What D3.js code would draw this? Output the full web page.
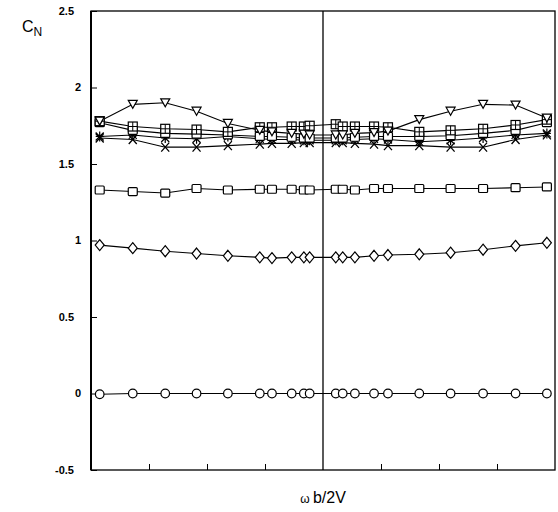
<!DOCTYPE html>
<html><head><meta charset="utf-8">
<script src="https://cdn.jsdelivr.net/npm/d3@7"></script>
<style>body{margin:0;background:#fff}svg{display:block}</style>
</head><body><div id="chart"></div>
<script>
const xValues = [-0.0385,-0.0328,-0.0272,-0.0218,-0.0164,-0.0109,-0.0088,-0.0054,-0.0033,-0.0023,
                  0.0022, 0.0034, 0.0055, 0.0088, 0.0112, 0.0166, 0.022, 0.0276, 0.0332, 0.0386];
const cnCircle   = [-0.005,0,0,0,0,0,0,0,0,0, 0,0,0,0,0,0,0,0,0,0];
const cnDiamond  = [0.97,0.95,0.93,0.915,0.90,0.89,0.885,0.89,0.89,0.89, 0.89,0.89,0.89,0.90,0.905,0.91,0.92,0.94,0.965,0.985];
const cnSquare   = [1.33,1.32,1.31,1.34,1.33,1.335,1.335,1.335,1.33,1.33, 1.335,1.335,1.33,1.34,1.34,1.34,1.34,1.34,1.345,1.35];
const cnTriangle = [1.78,1.89,1.90,1.845,1.765,1.72,1.71,1.70,1.695,1.69, 1.69,1.69,1.70,1.705,1.715,1.79,1.845,1.89,1.885,1.80];
const cnBoxPlus  = [1.78,1.745,1.73,1.725,1.71,1.74,1.74,1.745,1.745,1.75, 1.76,1.745,1.745,1.745,1.74,1.71,1.72,1.73,1.755,1.79];
const cnBox2     = [1.77,1.72,1.70,1.695,1.69,1.68,1.68,1.675,1.67,1.67, 1.67,1.67,1.675,1.68,1.68,1.68,1.685,1.70,1.72,1.77];
const cnStar     = [1.68,1.69,1.67,1.665,1.68,1.665,1.66,1.66,1.655,1.655, 1.655,1.655,1.66,1.665,1.66,1.645,1.655,1.67,1.69,1.70];
const cnCross    = [1.67,1.66,1.61,1.61,1.62,1.63,1.635,1.635,1.64,1.64, 1.64,1.64,1.635,1.63,1.62,1.62,1.61,1.61,1.66,1.69];
const yTicks = [-0.5, 0, 0.5, 1, 1.5, 2, 2.5];
const xTicks = [-0.03,-0.02,-0.01,0.01,0.02,0.03];
const yTitle = "C";
const yTitleSub = "N";
const xTitle = "b/2V";
const xTitleGreek = "ω";

const series = [
  {values: cnCircle, marker: "circle"},
  {values: cnDiamond, marker: "diamond"},
  {values: cnSquare, marker: "square"},
  {values: cnCross, marker: "cross"},
  {values: cnStar, marker: "star"},
  {values: cnBox2, marker: "square"},
  {values: cnBoxPlus, marker: "boxplus"},
  {values: cnTriangle, marker: "triangle"}
];

const W = 558, H = 512;
const svg = d3.select("#chart").append("svg").attr("width", W).attr("height", H);
const x = d3.scaleLinear().domain([-0.04, 0.04]).range([91, 555]);
const y = d3.scaleLinear().domain([-0.5, 2.5]).range([470, 11]);

// frame
svg.append("rect").attr("x", x(-0.04)).attr("y", y(2.5))
  .attr("width", x(0.04) - x(-0.04)).attr("height", y(-0.5) - y(2.5))
  .attr("fill", "none").attr("stroke", "#000").attr("stroke-width", 1.3);
svg.append("line").attr("x1", x(-0.04)).attr("x2", x(-0.04)).attr("y1", y(2.5)).attr("y2", y(-0.5))
  .attr("stroke", "#000").attr("stroke-width", 2);
svg.append("line").attr("x1", x(0)).attr("x2", x(0)).attr("y1", y(2.5)).attr("y2", y(-0.5))
  .attr("stroke", "#000").attr("stroke-width", 1.3);

// y axis (inward ticks)
const yAxis = d3.axisRight(y).tickValues(yTicks).tickSize(6).tickFormat("");
const gy = svg.append("g").attr("transform", `translate(${x(-0.04)},0)`).call(yAxis);
gy.select(".domain").remove();
gy.selectAll("line").attr("stroke", "#000");
svg.append("g").selectAll("text").data(yTicks).join("text")
  .attr("x", d => Number.isInteger(d) ? 81 : 74)
  .attr("y", d => y(d)).attr("dy", "0.35em")
  .attr("text-anchor", "end")
  .attr("font-family", "Arial, 'Liberation Sans', sans-serif")
  .attr("font-size", 11).attr("font-weight", "bold")
  .text(d => String(d));

// x axis (inward ticks, no labels)
const xAxis = d3.axisTop(x).tickValues(xTicks).tickSize(6).tickFormat("");
const gx = svg.append("g").attr("transform", `translate(0,${y(-0.5)})`).call(xAxis);
gx.select(".domain").remove();
gx.selectAll("line").attr("stroke", "#000");

// lines
const line = d3.line().x((d, i) => x(xValues[i])).y(d => y(d));
series.forEach(s => {
  svg.append("path").datum(s.values).attr("d", line)
    .attr("fill", "none").attr("stroke", "#000").attr("stroke-width", 1.1);
});

// markers
function drawMarker(g, type) {
  if (type === "circle") {
    g.append("circle").attr("r", 4.3).attr("fill", "#fff").attr("stroke", "#000").attr("stroke-width", 1.2);
  } else if (type === "diamond") {
    g.append("path").attr("d", "M0,-5.5L4.5,0L0,5.5L-4.5,0Z").attr("fill", "#fff").attr("stroke", "#000").attr("stroke-width", 1.2);
  } else if (type === "square") {
    g.append("rect").attr("x", -4.5).attr("y", -4).attr("width", 9).attr("height", 8).attr("rx", 1)
      .attr("fill", "#fff").attr("stroke", "#000").attr("stroke-width", 1.2);
  } else if (type === "boxplus") {
    g.append("rect").attr("x", -4.5).attr("y", -4.5).attr("width", 9).attr("height", 9)
      .attr("fill", "#fff").attr("stroke", "#000").attr("stroke-width", 1.2);
    g.append("path").attr("d", "M-4.5,0H4.5M0,-4.5V4.5").attr("stroke", "#000").attr("stroke-width", 1);
  } else if (type === "triangle") {
    g.append("path").attr("d", "M-4.5,-4H4.5L0,4Z").attr("fill", "#fff").attr("stroke", "#000").attr("stroke-width", 1.2);
  } else if (type === "cross") {
    g.append("path").attr("d", "M-4,-4.5L4,4.5M4,-4.5L-4,4.5").attr("stroke", "#000").attr("stroke-width", 1.3);
  } else if (type === "star") {
    g.append("path").attr("d", "M-4,-4L4,4M4,-4L-4,4M0,-5V5M-4,0H4").attr("stroke", "#000").attr("stroke-width", 1.2);
  }
}
series.forEach(s => {
  svg.append("g").selectAll("g").data(s.values).join("g")
    .attr("transform", (d, i) => `translate(${x(xValues[i])},${y(d)})`)
    .each(function() { drawMarker(d3.select(this), s.marker); });
});

// titles
const yt = svg.append("text").attr("x", 22).attr("y", 32)
  .attr("font-family", "Arial, 'Liberation Sans', sans-serif").attr("font-size", 16);
yt.append("tspan").text(yTitle);
yt.append("tspan").attr("dy", 4).attr("font-size", 12).text(yTitleSub);

const xt = svg.append("text").attr("x", x(0)).attr("y", 503).attr("text-anchor", "middle")
  .attr("font-family", "Arial, 'Liberation Sans', sans-serif").attr("font-size", 16);
xt.append("tspan").attr("font-size", 12).text(xTitleGreek + " ");
xt.append("tspan").text(xTitle);
</script></body></html>
